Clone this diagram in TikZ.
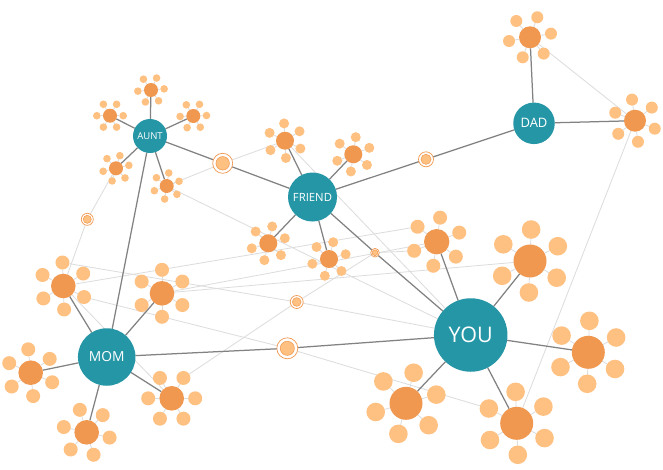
\documentclass[tikz,border=0pt]{standalone}
\usepackage{fontspec}
\setmainfont{Open Sans}
\usetikzlibrary{calc}
\pgfdeclarelayer{bg}
\pgfdeclarelayer{mid}
\pgfsetlayers{bg,mid,main}
\definecolor{teal1}{RGB}{37,150,166}
\definecolor{orD}{RGB}{240,152,80}
\definecolor{orL}{RGB}{255,193,130}
\definecolor{lgray}{RGB}{220,220,220}
\definecolor{dgray}{RGB}{130,130,130}
\newcommand\flower[7]{%
  \node[ctr,minimum size=2*#5] (#1) at (#2,#3) {};
  \foreach \k in {1,...,6}{%
    \node[pet,minimum size=2*#6] (#1-\k) at ($(#1)+({#4+60*(\k-1)}:#7)$) {};
    \begin{pgfonlayer}{bg}\draw[spoke] (#1) -- (#1-\k);\end{pgfonlayer}
  }%
}
\newcommand\ringnode[4]{%
  \node[ringo,minimum size=2*#4] (#1) at (#2,#3) {};
  \node[ringi,minimum size=1.35*#4] (#1-in) at (#1) {};
}
\begin{document}
\begin{tikzpicture}[x=1pt,y=-1pt,
  ctr/.style={circle,fill=orD,inner sep=0pt,outer sep=0pt},
  pet/.style={circle,fill=orL,inner sep=0pt,outer sep=0pt},
  person/.style={circle,fill=teal1,text=white,inner sep=0pt,outer sep=0pt},
  ringo/.style={circle,draw=orD,line width=0.7pt,fill=white,inner sep=0pt,outer sep=0pt},
  ringi/.style={circle,draw=orD,line width=0.5pt,fill=orL,inner sep=0pt,outer sep=0pt},
  spoke/.style={draw=lgray,line width=0.8pt},
  faint/.style={draw=lgray,line width=0.8pt},
  tie/.style={draw=dgray,line width=1.25pt}]
\begin{pgfonlayer}{bg}
\fill[white] (0,0) rectangle (663,469);
\end{pgfonlayer}
\useasboundingbox (0,0) rectangle (663,469);

% main people
\node[person,minimum size=34,font=\fontsize{9.5}{10}\selectfont] (aunt) at (150,136) {AUNT};
\node[person,minimum size=49,font=\fontsize{11.3}{12}\selectfont] (friend) at (312.5,197) {FRIEND};
\node[person,minimum size=41.5,font=\fontsize{13}{14}\selectfont] (dad) at (534,123.3) {DAD};
\node[person,minimum size=57.5,font=\fontsize{13.8}{15}\selectfont] (mom) at (106.7,357) {MOM};
\node[person,minimum size=73.5,font=\fontsize{21.5}{23}\selectfont] (you) at (470.7,335) {YOU};

% clusters
\flower{A1}{151}{90}{-5}{7}{3.8}{13.2}
\flower{A2}{110}{115.7}{0}{7}{3.8}{13.2}
\flower{A3}{193.3}{116}{-2}{7}{3.8}{13.2}
\flower{A4}{116}{168.3}{-13}{7}{3.8}{13.2}
\flower{A5}{166.7}{186}{-21}{7}{3.8}{13.2}
\flower{F1}{285}{140.7}{27}{9}{5}{17.3}
\flower{F2}{353.3}{154.3}{-22}{9}{5}{17.3}
\flower{F3}{268.3}{243.3}{-17}{9}{5}{17.3}
\flower{F4}{329}{259}{-16}{9}{5}{17.3}
\flower{D1}{530}{37.3}{-10}{11}{6}{21.3}
\flower{D2}{635}{120.7}{22}{11}{6}{21.3}
\flower{Y1}{436.7}{241.7}{-22}{12.7}{7}{24.3}
\flower{Y2}{530}{261}{-28}{16.5}{9.3}{31.5}
\flower{Y3}{588.3}{352.3}{-28}{16.5}{9.3}{31.5}
\flower{Y4}{406}{403.3}{-16}{16.5}{9.3}{31.5}
\flower{Y5}{516.7}{423.3}{28}{16.5}{9.3}{31.5}
\flower{M1}{63.3}{286}{28}{12.3}{7}{23.5}
\flower{M2}{162}{293.3}{30}{12.3}{7}{23.5}
\flower{M3}{30.7}{372.7}{24}{12.3}{7}{23.5}
\flower{M4}{86.7}{432.3}{13}{12.3}{7}{23.5}
\flower{M5}{171.7}{398.3}{0}{12.3}{7}{23.5}

% link rings
\ringnode{rAF}{222.7}{163.3}{10}
\ringnode{rFD}{426}{159.3}{7.5}
\ringnode{rFY}{375}{252.7}{4.3}
\ringnode{rA}{87.3}{219.3}{6}
\ringnode{rO}{296.7}{302}{6.5}
\ringnode{rMY}{287.3}{348.3}{10.5}

% faint links
\begin{pgfonlayer}{bg}
\draw[faint] (A4) -- (rA) -- (M1);
\draw[faint] (A5) -- (rAF) -- (F1);
\draw[faint] (A5) -- (you);
\draw[faint] (F1) -- (you);
\draw[faint] (D1) -- (D2) -- (Y5);
\draw[faint] (M5-6) -- (rO) -- (rFY) -- (Y1-4);
\draw[faint] (M1-1) -- (rMY) -- (Y5-4);
\draw[faint] (M1-5) -- (rO) -- (you);
\draw[faint] (M1) -- (Y1-5);
\draw[faint] (M2) -- (Y1);
\draw[faint] (M2) -- (Y2);
\draw[faint] (M1) -- (M5);
\end{pgfonlayer}

% strong links
\begin{pgfonlayer}{mid}
\foreach \c in {A1,A2,A3,A4,A5} \draw[tie] (aunt) -- (\c);
\foreach \c in {F1,F2,F3,F4} \draw[tie] (friend) -- (\c);
\foreach \c in {D1,D2} \draw[tie] (dad) -- (\c);
\foreach \c in {M1,M2,M3,M4,M5} \draw[tie] (mom) -- (\c);
\foreach \c in {Y1,Y2,Y3,Y4,Y5} \draw[tie] (you) -- (\c);
\draw[tie] (aunt) -- (rAF) -- (friend);
\draw[tie] (aunt) -- (mom);
\draw[tie] (friend) -- (rFD) -- (dad);
\draw[tie] (friend) -- (rFY) -- (you);
\draw[tie] (mom) -- (rMY) -- (you);
\end{pgfonlayer}
\end{tikzpicture}
\end{document}
